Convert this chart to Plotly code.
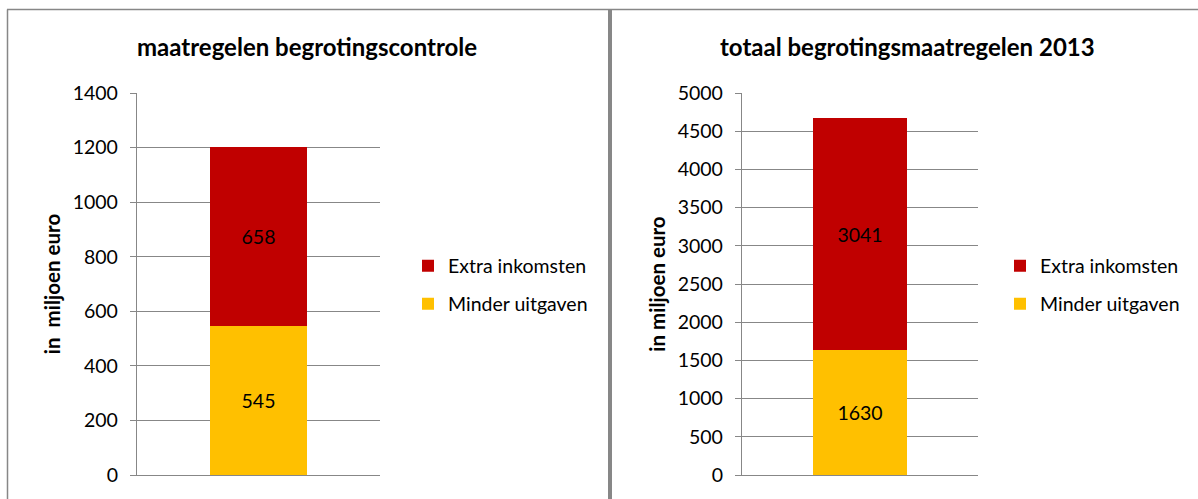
import plotly.graph_objects as go

W, H = 1198, 499

# ---- data ----
series_names = ["Minder uitgaven", "Extra inkomsten"]
series_colors = ["#FFC000", "#C00000"]
controle_values = [545, 658]
totaal_values = [1630, 3041]
titles = ["maatregelen begrotingscontrole", "totaal begrotingsmaatregelen 2013"]
ytitles = ["in  miljoen euro", "in miljoen euro"]
y1_ticks = [0, 200, 400, 600, 800, 1000, 1200, 1400]
y2_ticks = [0, 500, 1000, 1500, 2000, 2500, 3000, 3500, 4000, 4500, 5000]

FONT = "Lato"
GRID = "#878787"
TXT = 19.5


def px_x(p):
    return p / W


def px_y(p):
    return 1 - p / H


fig = go.Figure()

legend_map = [("legend2", "legend"), ("legend4", "legend3")]
for panel, (vals, xa, ya) in enumerate([(controle_values, "x", "y"), (totaal_values, "x2", "y2")]):
    for i, name in enumerate(series_names):
        fig.add_trace(go.Bar(
            x=[0], y=[vals[i]], name=name, xaxis=xa, yaxis=ya,
            marker=dict(color=series_colors[i], line=dict(width=0)),
            width=0.4,
            text=[str(vals[i])], textposition="inside", insidetextanchor="middle",
            textfont=dict(family=FONT, size=TXT, color="#000000"),
            legend=legend_map[panel][i], showlegend=True,
            hoverinfo="name+y",
        ))

axis_common = dict(
    showgrid=True, gridcolor=GRID, gridwidth=1.3,
    showline=True, linecolor=GRID, linewidth=1.3,
    ticks="outside", ticklen=6, tickcolor=GRID, tickwidth=1.3,
    tickfont=dict(family=FONT, size=TXT, color="#000000"),
    zeroline=False, ticklabelstandoff=8, automargin=False,
)
xaxis_common = dict(
    range=[-0.5, 0.5], showgrid=False, showticklabels=False,
    showline=True, linecolor=GRID, linewidth=1.3, ticks="", zeroline=False,
    fixedrange=True, automargin=False,
)

ybot, ytop = px_y(475), px_y(93)
ytitle_font = dict(family=FONT, size=20.5, color="#000000", weight="bold")

fig.update_layout(
    template="none",
    width=W, height=H, autosize=False,
    margin=dict(l=0, r=0, t=0, b=0, pad=0, autoexpand=False),
    paper_bgcolor="white", plot_bgcolor="white",
    barmode="stack",
    xaxis=dict(domain=[px_x(137), px_x(380)], anchor="y", **xaxis_common),
    yaxis=dict(domain=[ybot, ytop], anchor="x", range=[0, 1400],
               tickvals=y1_ticks,
               title=dict(text=ytitles[0], standoff=6, font=ytitle_font),
               **axis_common),
    xaxis2=dict(domain=[px_x(742), px_x(978)], anchor="y2", **xaxis_common),
    yaxis2=dict(domain=[ybot, ytop], anchor="x2", range=[0, 5000],
                tickvals=y2_ticks,
                title=dict(text=ytitles[1], standoff=6, font=ytitle_font),
                **axis_common),
    showlegend=True,
)

leg_font = dict(family=FONT, size=TXT, color="#000000")
leg_common = dict(font=leg_font, bgcolor="rgba(0,0,0,0)", xanchor="left", yanchor="middle",
                  borderwidth=0, itemclick=False, itemdoubleclick=False)
fig.update_layout(
    legend=dict(x=px_x(408), y=px_y(266), **leg_common),
    legend2=dict(x=px_x(408), y=px_y(304), **leg_common),
    legend3=dict(x=px_x(1000), y=px_y(266), **leg_common),
    legend4=dict(x=px_x(1000), y=px_y(304), **leg_common),
)

# chart titles
for cx, t in zip([307, 907], titles):
    fig.add_annotation(
        x=px_x(cx), y=px_y(47), xref="paper", yref="paper", text=t, showarrow=False,
        xanchor="center", yanchor="middle",
        font=dict(family=FONT, size=24, color="#000000", weight="bold"),
    )

# panel borders
border = "#878787"
fig.add_shape(type="line", xref="paper", yref="paper", x0=px_x(7), x1=1.0, y0=px_y(9.5), y1=px_y(9.5),
              line=dict(color=border, width=1.5))
fig.add_shape(type="line", xref="paper", yref="paper", x0=px_x(7.5), x1=px_x(7.5), y0=px_y(9.5), y1=0,
              line=dict(color=border, width=1.5))
fig.add_shape(type="line", xref="paper", yref="paper", x0=px_x(610), x1=px_x(610), y0=px_y(9.5), y1=0,
              line=dict(color=border, width=4))

post = (
    "document.documentElement.style.margin='0';"
    "document.documentElement.style.overflow='hidden';"
    "document.body.style.margin='0';document.body.style.padding='0';"
    "document.body.style.overflow='hidden';"
    "var d=document.getElementsByClassName('plotly-graph-div')[0];"
    "d.style.position='fixed';d.style.top='0px';d.style.left='0px';"
)

fig.write_html("out.html", config={"displayModeBar": False}, post_script=post)
